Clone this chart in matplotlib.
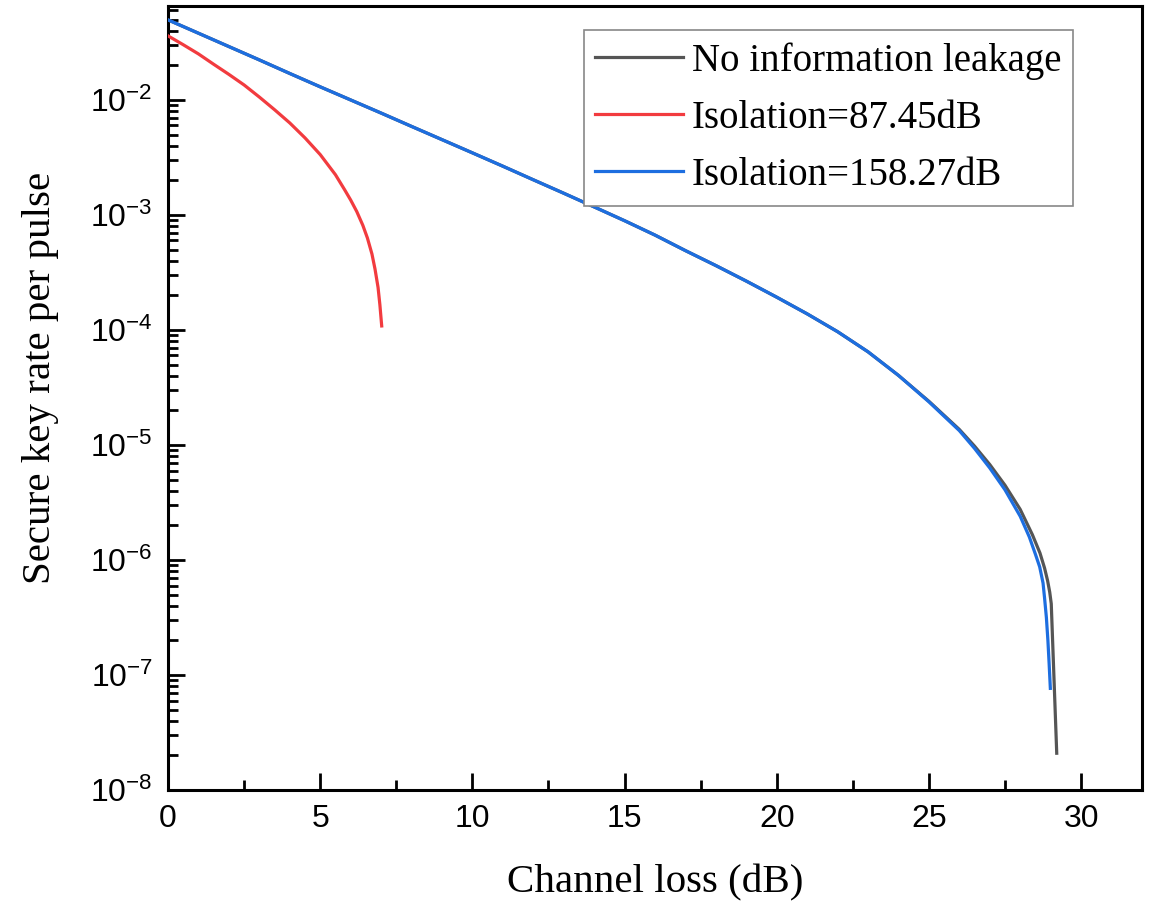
import numpy as np
import matplotlib
matplotlib.use("Agg")
import matplotlib.pyplot as plt
from matplotlib.ticker import FixedLocator, NullFormatter, FuncFormatter

plt.rcParams['mathtext.fontset'] = 'custom'
plt.rcParams['mathtext.rm'] = 'Liberation Sans'
plt.rcParams['mathtext.it'] = 'Liberation Sans'
plt.rcParams['mathtext.default'] = 'regular'

# tasa de clave (log10) frente a la perdida del canal (dB)
loss_158 = [0, 1, 2, 3, 4, 5, 6, 7, 8, 9, 10, 11, 12, 13, 14, 15, 16, 17, 18, 19, 20,
            21, 22, 23, 24, 25, 26, 26.5, 27, 27.5, 28, 28.3, 28.5, 28.64, 28.75, 28.8,
            28.86, 28.91, 28.95, 28.99]
lograte_158 = [-1.304, -1.42, -1.536, -1.652, -1.77, -1.886, -2.0, -2.114, -2.23, -2.345,
               -2.46, -2.576, -2.694, -2.811, -2.93, -3.05, -3.175, -3.31, -3.44, -3.575,
               -3.715, -3.86, -4.015, -4.19, -4.395, -4.625, -4.875, -5.03, -5.2, -5.39,
               -5.62, -5.8, -5.95, -6.06, -6.2, -6.33, -6.5, -6.7, -6.9, -7.116]

# sin fuga: coincide con 158.27 dB salvo en la cola final
loss_none = [0, 1, 2, 3, 4, 5, 6, 7, 8, 9, 10, 11, 12, 13, 14, 15, 16, 17, 18, 19, 20,
             21, 22, 23, 24, 25, 26, 26.5, 27, 27.5, 28, 28.4, 28.65, 28.8, 28.9, 28.97,
             29.02, 29.2]
lograte_none = [-1.304, -1.42, -1.536, -1.652, -1.77, -1.886, -2.0, -2.114, -2.23, -2.345,
                -2.46, -2.576, -2.694, -2.811, -2.93, -3.05, -3.175, -3.31, -3.44, -3.575,
                -3.715, -3.86, -4.015, -4.19, -4.395, -4.62, -4.865, -5.01, -5.17, -5.35,
                -5.56, -5.78, -5.94, -6.07, -6.18, -6.28, -6.38, -7.68]

loss_87 = [0, 0.5, 1.0, 1.5, 2.0, 2.5, 3.0, 3.5, 4.0, 4.5, 5.0, 5.5, 5.8, 6.0, 6.2, 6.4,
           6.55, 6.7, 6.8, 6.9, 6.96, 7.02]
lograte_87 = [-1.443, -1.52, -1.60, -1.69, -1.778, -1.87, -1.975, -2.085, -2.2, -2.33,
              -2.475, -2.65, -2.78, -2.87, -2.97, -3.09, -3.2, -3.34, -3.47, -3.63, -3.78,
              -3.965]

labels = ['No information leakage', 'Isolation=87.45dB', 'Isolation=158.27dB']
colors = ['#555555', '#f23b3f', '#1d6ee0']
yticks = [1e-8, 1e-7, 1e-6, 1e-5, 1e-4, 1e-3, 1e-2]

fig = plt.figure(figsize=(11.55, 9.06), dpi=100)
ax = fig.add_axes([0.1455, 0.128, 0.8432, 0.8654])

ax.plot(loss_none, 10 ** np.array(lograte_none), color=colors[0], lw=2.3,
        label=labels[0], zorder=3)
ax.plot(loss_87, 10 ** np.array(lograte_87), color=colors[1], lw=2.3,
        label=labels[1], zorder=4)
ax.plot(loss_158, 10 ** np.array(lograte_158), color=colors[2], lw=2.3,
        label=labels[2], zorder=4)

ax.set_yscale('log')
ax.set_xlim(0, 32)
ax.set_ylim(1e-8, 10 ** -1.183)

ax.xaxis.set_major_locator(FixedLocator([0, 5, 10, 15, 20, 25, 30]))
ax.xaxis.set_minor_locator(FixedLocator([2.5, 7.5, 12.5, 17.5, 22.5, 27.5]))
ax.yaxis.set_major_locator(FixedLocator(yticks))
minors = [m * d for d in yticks for m in range(2, 10)]
ax.yaxis.set_minor_locator(FixedLocator(minors))
ax.yaxis.set_minor_formatter(NullFormatter())
ax.yaxis.set_major_formatter(FuncFormatter(lambda v, p: r'$10^{%d}$' % round(np.log10(v))))

ax.tick_params(which='both', direction='in', top=False, right=False, width=2,
               labelsize=23, color='black')
ax.tick_params(which='major', length=12)
ax.tick_params(axis='y', which='major', pad=11)
ax.tick_params(axis='x', which='major', pad=10)
ax.tick_params(which='minor', length=7)
for lbl in ax.get_xticklabels() + ax.get_yticklabels():
    lbl.set_fontfamily('Liberation Sans')
for sp in ax.spines.values():
    sp.set_linewidth(2.2)

ax.set_xlabel('Channel loss (dB)', fontfamily='Liberation Serif', fontsize=29.5, labelpad=22)
ax.set_ylabel('Secure key rate per pulse', fontfamily='Liberation Serif', fontsize=29.5)
ax.yaxis.set_label_coords(-0.112, 0.525)

leg = ax.legend(loc='upper right', bbox_to_anchor=(0.929, 0.969),
                prop={'family': 'Liberation Serif', 'size': 28},
                fancybox=False, framealpha=1, edgecolor='#888888',
                handlelength=2.25, handletextpad=0.23, borderpad=0.3,
                labelspacing=0.52, borderaxespad=0)
leg.get_frame().set_linewidth(1.2)

fig.savefig('out.png', dpi=100)
